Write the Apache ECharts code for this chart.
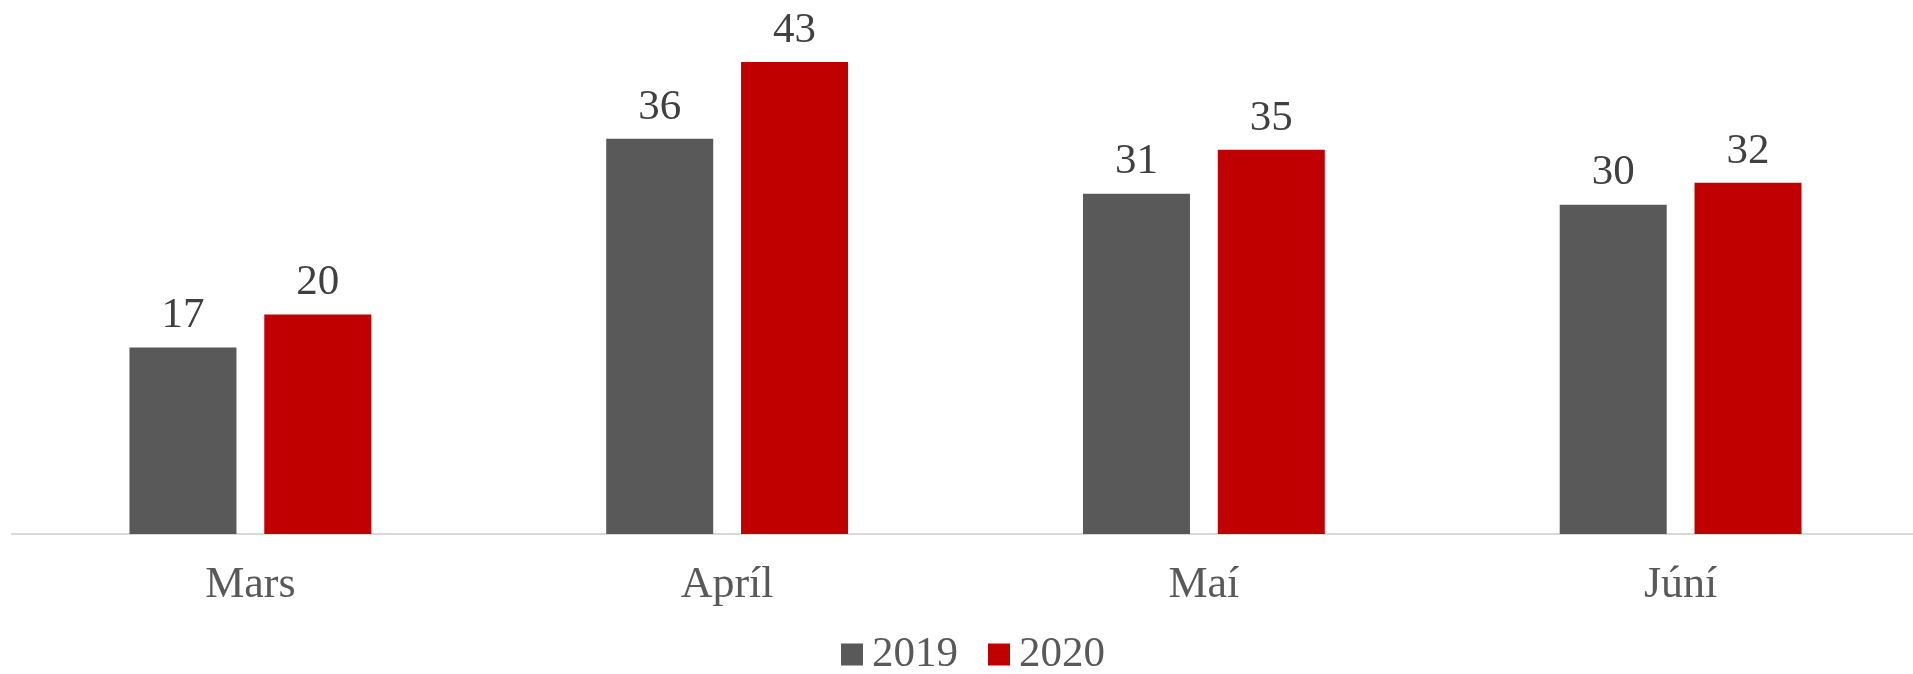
<!DOCTYPE html>
<html>
<head>
<meta charset="utf-8">
<script src="https://cdn.jsdelivr.net/npm/echarts@6/dist/echarts.min.js"></script>
<style>
  html, body { margin: 0; padding: 0; background: #fff; overflow: hidden; }
  /* a bit wider than the window so the last category runs off the edge like the original */
  #chart { width: 1925px; height: 674px; }
</style>
</head>
<body>
<div id="chart"></div>
<script>
// gögn
const months = ['Mars', 'Apríl', 'Maí', 'Júní']
const values2019 = [17, 36, 31, 30]
const values2020 = [20, 43, 35, 32]

const font = '"Liberation Serif", "Times New Roman", serif'

const chart = echarts.init(document.getElementById('chart'))

const labelStyle = {
  show: true,
  position: 'top',
  distance: 10,
  color: '#404040',
  fontFamily: font,
  fontSize: 43
}

chart.setOption({
  animation: false,
  textStyle: { fontFamily: font },
  grid: { left: 12, right: 6, top: 40, bottom: 140 },
  legend: {
    top: 628,
    left: 836,
    itemWidth: 22,
    itemHeight: 22,
    itemGap: 30,
    icon: 'rect',
    textStyle: { color: '#595959', fontFamily: font, fontSize: 43, padding: [0, 0, 0, 4] },
    data: ['2019', '2020']
  },
  xAxis: {
    type: 'category',
    data: months,
    axisLine: { lineStyle: { color: '#d9d9d9', width: 2 } },
    axisTick: { show: false },
    axisLabel: { color: '#595959', fontFamily: font, fontSize: 44, margin: 29 }
  },
  yAxis: {
    type: 'value',
    min: 0,
    max: 45,
    show: false,
    splitLine: { show: false }
  },
  series: [
    {
      name: '2019',
      type: 'bar',
      data: values2019,
      barWidth: 107,
      barGap: '26%',
      itemStyle: { color: '#595959' },
      label: labelStyle
    },
    {
      name: '2020',
      type: 'bar',
      data: values2020,
      barWidth: 107,
      itemStyle: { color: '#c00000' },
      label: labelStyle
    }
  ]
})
</script>
</body>
</html>
